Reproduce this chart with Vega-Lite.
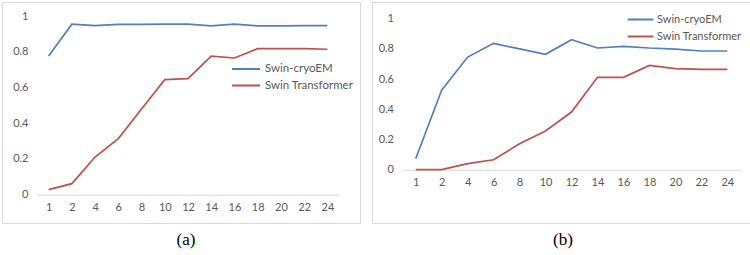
{
  "$schema": "https://vega.github.io/schema/vega-lite/v6.json",
  "background": "white",
  "padding": {"left": 1, "top": 1, "right": 0, "bottom": 0},
  "spacing": 10,
  "config": {
    "view": {"stroke": "#d9d9d9", "strokeWidth": 1},
    "font": "Lato",
    "axis": {"labelFont": "Lato", "labelColor": "#595959", "labelFontSize": 11, "title": null, "grid": false, "ticks": false, "tickSize": 0},
    "legend": {"labelFont": "Lato", "labelColor": "#595959", "padding": 0}
  },
  "resolve": {
    "scale": {"x": "independent", "y": "independent", "color": "independent"},
    "axis": {"x": "independent", "y": "independent"},
    "legend": {"color": "independent"}
  },
  "data": {
    "values": [
      {"panel": "a", "series": "Swin-cryoEM", "epoch": 1, "value": 0.776},
      {"panel": "a", "series": "Swin-cryoEM", "epoch": 2, "value": 0.954},
      {"panel": "a", "series": "Swin-cryoEM", "epoch": 4, "value": 0.946},
      {"panel": "a", "series": "Swin-cryoEM", "epoch": 6, "value": 0.953},
      {"panel": "a", "series": "Swin-cryoEM", "epoch": 8, "value": 0.953},
      {"panel": "a", "series": "Swin-cryoEM", "epoch": 10, "value": 0.955},
      {"panel": "a", "series": "Swin-cryoEM", "epoch": 12, "value": 0.955},
      {"panel": "a", "series": "Swin-cryoEM", "epoch": 14, "value": 0.945},
      {"panel": "a", "series": "Swin-cryoEM", "epoch": 16, "value": 0.955},
      {"panel": "a", "series": "Swin-cryoEM", "epoch": 18, "value": 0.945},
      {"panel": "a", "series": "Swin-cryoEM", "epoch": 20, "value": 0.945},
      {"panel": "a", "series": "Swin-cryoEM", "epoch": 22, "value": 0.946},
      {"panel": "a", "series": "Swin-cryoEM", "epoch": 24, "value": 0.946},
      {"panel": "a", "series": "Swin Transformer", "epoch": 1, "value": 0.028},
      {"panel": "a", "series": "Swin Transformer", "epoch": 2, "value": 0.062},
      {"panel": "a", "series": "Swin Transformer", "epoch": 4, "value": 0.211},
      {"panel": "a", "series": "Swin Transformer", "epoch": 6, "value": 0.314},
      {"panel": "a", "series": "Swin Transformer", "epoch": 8, "value": 0.48},
      {"panel": "a", "series": "Swin Transformer", "epoch": 10, "value": 0.644},
      {"panel": "a", "series": "Swin Transformer", "epoch": 12, "value": 0.65},
      {"panel": "a", "series": "Swin Transformer", "epoch": 14, "value": 0.775},
      {"panel": "a", "series": "Swin Transformer", "epoch": 16, "value": 0.765},
      {"panel": "a", "series": "Swin Transformer", "epoch": 18, "value": 0.817},
      {"panel": "a", "series": "Swin Transformer", "epoch": 20, "value": 0.817},
      {"panel": "a", "series": "Swin Transformer", "epoch": 22, "value": 0.817},
      {"panel": "a", "series": "Swin Transformer", "epoch": 24, "value": 0.814},
      {"panel": "b", "series": "Swin-cryoEM", "epoch": 1, "value": 0.073},
      {"panel": "b", "series": "Swin-cryoEM", "epoch": 2, "value": 0.526},
      {"panel": "b", "series": "Swin-cryoEM", "epoch": 4, "value": 0.746},
      {"panel": "b", "series": "Swin-cryoEM", "epoch": 6, "value": 0.837},
      {"panel": "b", "series": "Swin-cryoEM", "epoch": 8, "value": 0.8},
      {"panel": "b", "series": "Swin-cryoEM", "epoch": 10, "value": 0.764},
      {"panel": "b", "series": "Swin-cryoEM", "epoch": 12, "value": 0.861},
      {"panel": "b", "series": "Swin-cryoEM", "epoch": 14, "value": 0.806},
      {"panel": "b", "series": "Swin-cryoEM", "epoch": 16, "value": 0.817},
      {"panel": "b", "series": "Swin-cryoEM", "epoch": 18, "value": 0.806},
      {"panel": "b", "series": "Swin-cryoEM", "epoch": 20, "value": 0.799},
      {"panel": "b", "series": "Swin-cryoEM", "epoch": 22, "value": 0.786},
      {"panel": "b", "series": "Swin-cryoEM", "epoch": 24, "value": 0.786},
      {"panel": "b", "series": "Swin Transformer", "epoch": 1, "value": 0.0},
      {"panel": "b", "series": "Swin Transformer", "epoch": 2, "value": 0.0},
      {"panel": "b", "series": "Swin Transformer", "epoch": 4, "value": 0.04},
      {"panel": "b", "series": "Swin Transformer", "epoch": 6, "value": 0.066},
      {"panel": "b", "series": "Swin Transformer", "epoch": 8, "value": 0.172},
      {"panel": "b", "series": "Swin Transformer", "epoch": 10, "value": 0.256},
      {"panel": "b", "series": "Swin Transformer", "epoch": 12, "value": 0.382},
      {"panel": "b", "series": "Swin Transformer", "epoch": 14, "value": 0.612},
      {"panel": "b", "series": "Swin Transformer", "epoch": 16, "value": 0.612},
      {"panel": "b", "series": "Swin Transformer", "epoch": 18, "value": 0.691},
      {"panel": "b", "series": "Swin Transformer", "epoch": 20, "value": 0.669},
      {"panel": "b", "series": "Swin Transformer", "epoch": 22, "value": 0.664},
      {"panel": "b", "series": "Swin Transformer", "epoch": 24, "value": 0.664}
    ]
  },
  "hconcat": [
    {
      "width": 358,
      "height": 221,
      "title": {"text": "(a)", "orient": "bottom", "font": "Liberation Serif", "fontSize": 17, "fontWeight": "normal", "color": "#000000", "offset": 9, "dx": 5},
      "transform": [{"filter": "datum.panel === 'a'"}],
      "mark": {"type": "line", "strokeWidth": 1.7},
      "encoding": {
        "x": {"field": "epoch", "type": "ordinal",
          "scale": {"type": "point", "range": [35, 337], "padding": 0.5},
          "axis": {"labelAngle": 0, "offset": -28.3, "domainColor": "#d9d9d9", "labelPadding": 7}},
        "y": {"field": "value", "type": "quantitative",
          "scale": {"domain": [0, 1], "range": [192.7, 14], "nice": false, "zero": false},
          "axis": {"values": [0, 0.2, 0.4, 0.6, 0.8, 1], "format": "~g", "offset": -28, "domain": false, "labelPadding": 2}},
        "color": {"field": "series", "type": "nominal",
          "scale": {"domain": ["Swin-cryoEM", "Swin Transformer"], "range": ["#4F81BD", "#C0504D"]},
          "legend": {"title": null, "orient": "none", "legendX": 238, "legendY": 61, "symbolType": "M-3,0H3", "symbolSize": 87, "symbolStrokeWidth": 2, "labelFontSize": 11.5, "labelOffset": 13, "rowPadding": 4.5}}
      }
    },
    {
      "width": 382,
      "height": 221,
      "title": {"text": "(b)", "orient": "bottom", "font": "Liberation Serif", "fontSize": 17, "fontWeight": "normal", "color": "#000000", "offset": 9},
      "transform": [{"filter": "datum.panel === 'b'"}],
      "mark": {"type": "line", "strokeWidth": 1.7},
      "encoding": {
        "x": {"field": "epoch", "type": "ordinal",
          "scale": {"type": "point", "range": [30.7, 368.3], "padding": 0.5},
          "axis": {"labelAngle": 0, "offset": -53.3, "domainColor": "#d9d9d9", "labelPadding": 7}},
        "y": {"field": "value", "type": "quantitative",
          "scale": {"domain": [0, 1], "range": [167.7, 16.7], "nice": false, "zero": false},
          "axis": {"values": [0, 0.2, 0.4, 0.6, 0.8, 1], "format": "~g", "offset": -23.5, "domain": false, "labelPadding": 2}},
        "color": {"field": "series", "type": "nominal",
          "scale": {"domain": ["Swin-cryoEM", "Swin Transformer"], "range": ["#4F81BD", "#C0504D"]},
          "legend": {"title": null, "orient": "none", "legendX": 263, "legendY": 12, "symbolType": "M-3,0H3", "symbolSize": 73, "symbolStrokeWidth": 2, "labelFontSize": 11, "labelOffset": 11, "rowPadding": 5}}
      }
    }
  ]
}
